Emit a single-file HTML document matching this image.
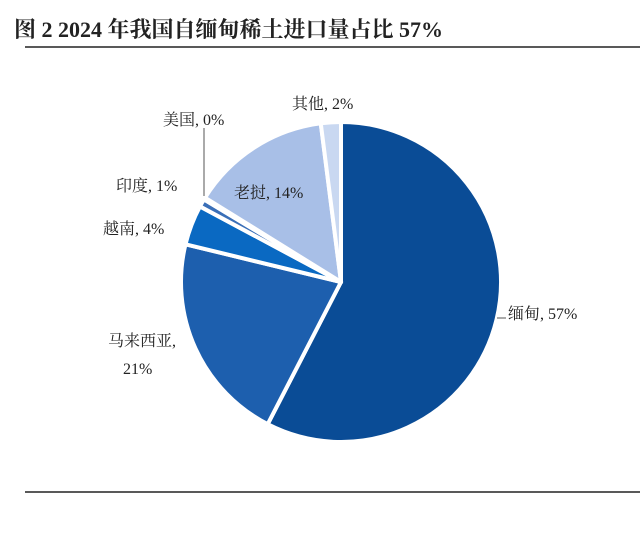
<!DOCTYPE html>
<html><head><meta charset="utf-8"><style>
body{margin:0;background:#fff;}
svg text{font-family:"Liberation Serif","Noto Serif CJK SC",serif;fill:#222;}
</style></head><body>
<svg width="640" height="533" viewBox="0 0 640 533">
<text x="14" y="37" font-size="22" font-weight="bold">图  2 2024 年我国自缅甸稀土进口量占比 57%</text>
<line x1="25" y1="47" x2="640" y2="47" stroke="#222" stroke-width="1.5"/>
<line x1="25" y1="492" x2="640" y2="492" stroke="#222" stroke-width="1.5"/>
<g id="pie"></g>
<line x1="204" y1="128" x2="204" y2="196" stroke="#555" stroke-width="1"/>
<line x1="497" y1="318" x2="506" y2="318" stroke="#555" stroke-width="1"/>
<g font-size="16">
<text x="508" y="319">缅甸, 57%</text>
<text x="108" y="346">马来西亚,</text>
<text x="123" y="374">21%</text>
<text x="103" y="234">越南, 4%</text>
<text x="116" y="191">印度, 1%</text>
<text x="163" y="125">美国, 0%</text>
<text x="234" y="198">老挝, 14%</text>
<text x="292" y="109">其他, 2%</text>
</g>
</svg>
<script>
const categories=["缅甸","马来西亚","越南","印度","美国","老挝","其他"];
const values=[57,21,4,0.8,0.2,14,2];
const colors=["#0a4c96","#1d5fae","#0a69c2","#3a6fb8","#8fa9d8","#a8bfe7","#c9d8f1"];
const cx=341,cy=282,r=160;
const g=document.getElementById('pie');
const total=values.reduce((a,b)=>a+b,0);
let a0=-Math.PI/2;
values.forEach((v,i)=>{
  const a1=a0+v/total*2*Math.PI;
  const x0=cx+r*Math.cos(a0),y0=cy+r*Math.sin(a0),x1=cx+r*Math.cos(a1),y1=cy+r*Math.sin(a1);
  const large=(a1-a0)>Math.PI?1:0;
  const p=document.createElementNS('http://www.w3.org/2000/svg','path');
  p.setAttribute('d',`M${cx},${cy}L${x0},${y0}A${r},${r} 0 ${large} 1 ${x1},${y1}Z`);
  p.setAttribute('fill',colors[i]);
  p.setAttribute('stroke','#fff');
  p.setAttribute('stroke-width','4');
  p.setAttribute('stroke-linejoin','round');
  
  
  g.appendChild(p);
  a0=a1;
});
</script>
</body></html>
